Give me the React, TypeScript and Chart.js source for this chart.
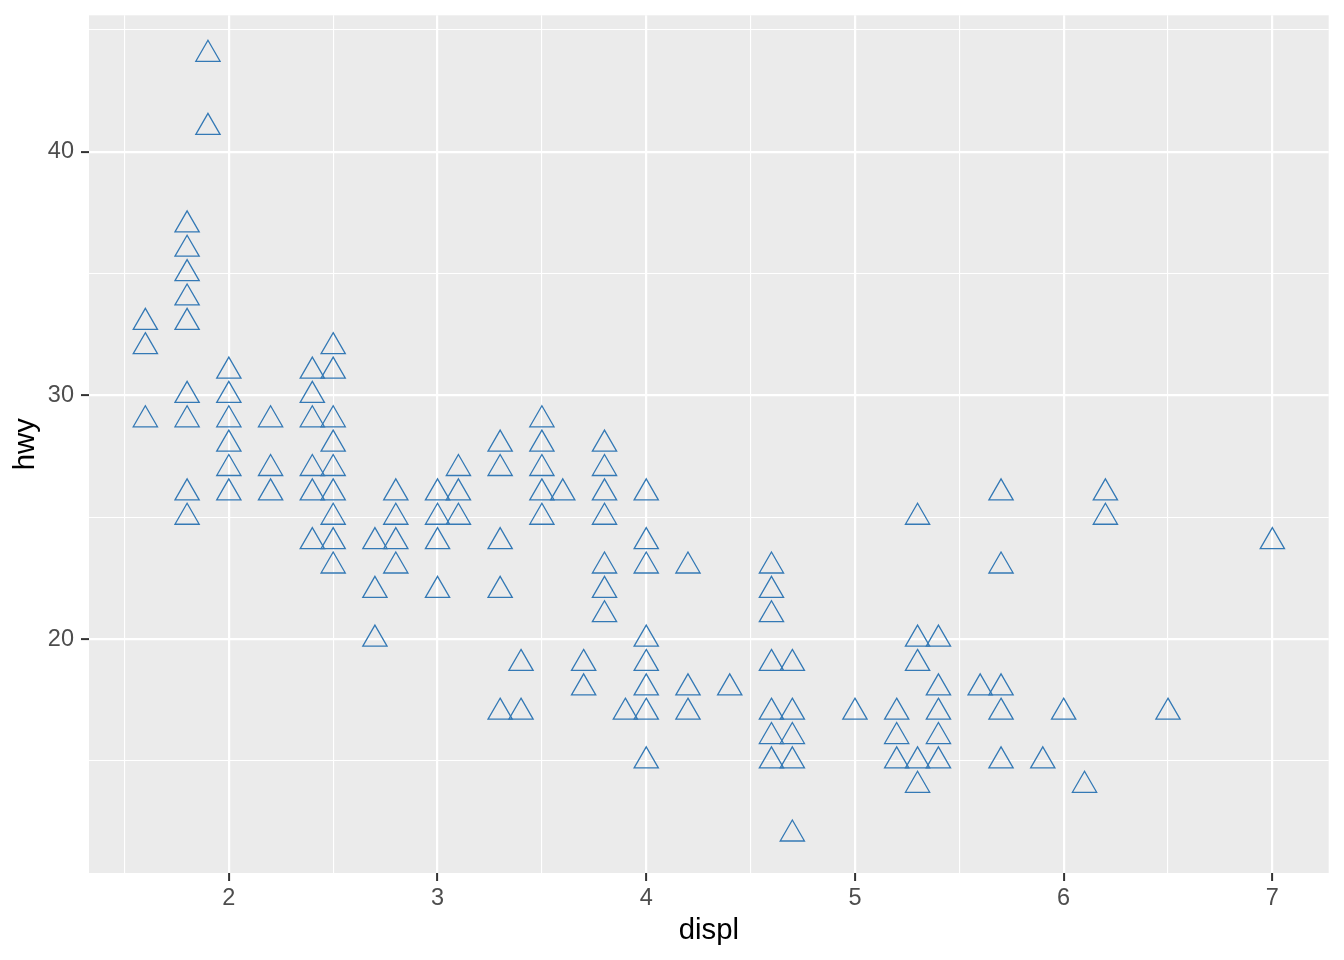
import React, { useEffect, useRef } from "react";
import { Chart, registerables } from "chart.js";

Chart.register(...registerables);

// Engine displacement (litres) and highway mpg, one entry per visible point
const displ: number[] = [
  1.6, 1.6, 1.6,
  1.8, 1.8, 1.8, 1.8, 1.8, 1.8, 1.8, 1.8, 1.8,
  1.9, 1.9,
  2.0, 2.0, 2.0, 2.0, 2.0, 2.0,
  2.2, 2.2, 2.2,
  2.4, 2.4, 2.4, 2.4, 2.4, 2.4,
  2.5, 2.5, 2.5, 2.5, 2.5, 2.5, 2.5, 2.5, 2.5,
  2.7, 2.7, 2.7,
  2.8, 2.8, 2.8, 2.8,
  3.0, 3.0, 3.0, 3.0,
  3.1, 3.1, 3.1,
  3.3, 3.3, 3.3, 3.3, 3.3,
  3.4, 3.4,
  3.5, 3.5, 3.5, 3.5, 3.5,
  3.6,
  3.7, 3.7,
  3.8, 3.8, 3.8, 3.8, 3.8, 3.8, 3.8,
  3.9,
  4.0, 4.0, 4.0, 4.0, 4.0, 4.0, 4.0, 4.0,
  4.2, 4.2, 4.2,
  4.4,
  4.6, 4.6, 4.6, 4.6, 4.6, 4.6, 4.6,
  4.7, 4.7, 4.7, 4.7, 4.7,
  5.0,
  5.2, 5.2, 5.2,
  5.3, 5.3, 5.3, 5.3, 5.3,
  5.4, 5.4, 5.4, 5.4, 5.4,
  5.6,
  5.7, 5.7, 5.7, 5.7, 5.7,
  5.9,
  6.0,
  6.1,
  6.2, 6.2,
  6.5,
  7.0,
];

const hwy: number[] = [
  33, 32, 29,
  37, 36, 35, 34, 33, 30, 29, 26, 25,
  44, 41,
  31, 30, 29, 28, 27, 26,
  29, 27, 26,
  31, 30, 29, 27, 26, 24,
  32, 31, 29, 28, 27, 26, 25, 24, 23,
  24, 22, 20,
  26, 25, 24, 23,
  26, 25, 24, 22,
  27, 26, 25,
  28, 27, 24, 22, 17,
  19, 17,
  29, 28, 27, 26, 25,
  26,
  19, 18,
  28, 27, 26, 25, 23, 22, 21,
  17,
  26, 24, 23, 20, 19, 18, 17, 15,
  23, 18, 17,
  18,
  23, 22, 21, 19, 17, 16, 15,
  19, 17, 16, 15, 12,
  17,
  17, 16, 15,
  25, 20, 19, 15, 14,
  20, 18, 17, 16, 15,
  18,
  26, 23, 18, 17, 15,
  15,
  17,
  14,
  26, 25,
  17,
  24,
];

const xMajorTicks: number[] = [2, 3, 4, 5, 6, 7];
const xMinorTicks: number[] = [1.5, 2.5, 3.5, 4.5, 5.5, 6.5];
const yMajorTicks: number[] = [20, 30, 40];
const yMinorTicks: number[] = [15, 25, 35, 45];

const xTitle = "displ";
const yTitle = "hwy";

const FONT = "'Liberation Sans', Arial, sans-serif";

const isMajor = (list: number[], v: number) =>
  list.some((m) => Math.abs(m - v) < 1e-9);

const panelBg = {
  id: "panelBg",
  beforeDraw(chart: any) {
    const { ctx, chartArea } = chart;
    ctx.save();
    ctx.fillStyle = "#EBEBEB";
    ctx.fillRect(
      chartArea.left,
      chartArea.top,
      chartArea.right - chartArea.left,
      chartArea.bottom - chartArea.top
    );
    ctx.restore();
  },
};

export default function App() {
  const ref = useRef<HTMLCanvasElement | null>(null);

  useEffect(() => {
    if (!ref.current) return;
    const points = displ.map((d, i) => ({ x: d, y: hwy[i] }));
    const xAll = [...xMinorTicks, ...xMajorTicks].sort((a, b) => a - b);
    const yAll = [...yMinorTicks, ...yMajorTicks].sort((a, b) => a - b);

    const chart = new Chart(ref.current, {
      type: "scatter",
      data: {
        datasets: [
          {
            data: points,
            pointStyle: "triangle",
            pointRadius: 14,
            pointHoverRadius: 14,
            pointBackgroundColor: "rgba(0,0,0,0)",
            pointBorderColor: "#3479B5",
            pointBorderWidth: 1.3,
            pointHoverBorderWidth: 1.3,
          },
        ],
      },
      options: {
        animation: false,
        responsive: false,
        devicePixelRatio: 1,
        events: [],
        layout: { padding: { top: 14, right: 15, left: 0, bottom: 0 } },
        plugins: {
          legend: { display: false },
          tooltip: { enabled: false },
        },
        scales: {
          x: {
            type: "linear",
            min: 1.33,
            max: 7.27,
            afterFit: (s: any) => {
              s.height = 87;
              s.paddingLeft = 0;
              s.paddingRight = 0;
            },
            afterBuildTicks: (s: any) => {
              s.ticks = xAll.map((v) => ({ value: v }));
            },
            border: { display: false },
            grid: {
              color: "#FFFFFF",
              lineWidth: (c: any) => (isMajor(xMajorTicks, c.tick?.value) ? 2.2 : 1.1),
              tickLength: 8,
              tickColor: (c: any) =>
                isMajor(xMajorTicks, c.tick?.value) ? "#333333" : "rgba(0,0,0,0)",
              tickWidth: (c: any) => (isMajor(xMajorTicks, c.tick?.value) ? 2 : 0),
            },
            ticks: {
              autoSkip: false,
              maxRotation: 0,
              padding: 3,
              color: "#4D4D4D",
              font: { family: FONT, size: 23.5 },
              callback: (v: any) => (isMajor(xMajorTicks, Number(v)) ? String(v) : ""),
            },
            title: {
              display: true,
              text: xTitle,
              color: "#000000",
              font: { family: FONT, size: 29.3 },
              padding: { top: 0, bottom: 12 },
            },
          },
          y: {
            type: "linear",
            min: 10.4,
            max: 45.6,
            afterFit: (s: any) => {
              s.width = 89;
              s.paddingTop = 0;
              s.paddingBottom = 0;
            },
            afterBuildTicks: (s: any) => {
              s.ticks = yAll.map((v) => ({ value: v }));
            },
            border: { display: false },
            grid: {
              color: "#FFFFFF",
              lineWidth: (c: any) => (isMajor(yMajorTicks, c.tick?.value) ? 2.2 : 1.1),
              tickLength: 8,
              tickColor: (c: any) =>
                isMajor(yMajorTicks, c.tick?.value) ? "#333333" : "rgba(0,0,0,0)",
              tickWidth: (c: any) => (isMajor(yMajorTicks, c.tick?.value) ? 2 : 0),
            },
            ticks: {
              autoSkip: false,
              padding: 7,
              color: "#4D4D4D",
              font: { family: FONT, size: 23.5 },
              callback: (v: any) => (isMajor(yMajorTicks, Number(v)) ? String(v) : ""),
            },
            title: {
              display: true,
              text: yTitle,
              color: "#000000",
              font: { family: FONT, size: 29.3 },
              padding: { top: 8, bottom: 0 },
            },
          },
        },
      },
      plugins: [panelBg],
    } as any);

    return () => chart.destroy();
  }, []);

  return (
    <div
      style={{
        position: "fixed",
        left: 0,
        top: 0,
        width: 1344,
        height: 960,
        background: "#FFFFFF",
      }}
    >
      <canvas ref={ref} width={1344} height={960} style={{ display: "block" }} />
    </div>
  );
}
